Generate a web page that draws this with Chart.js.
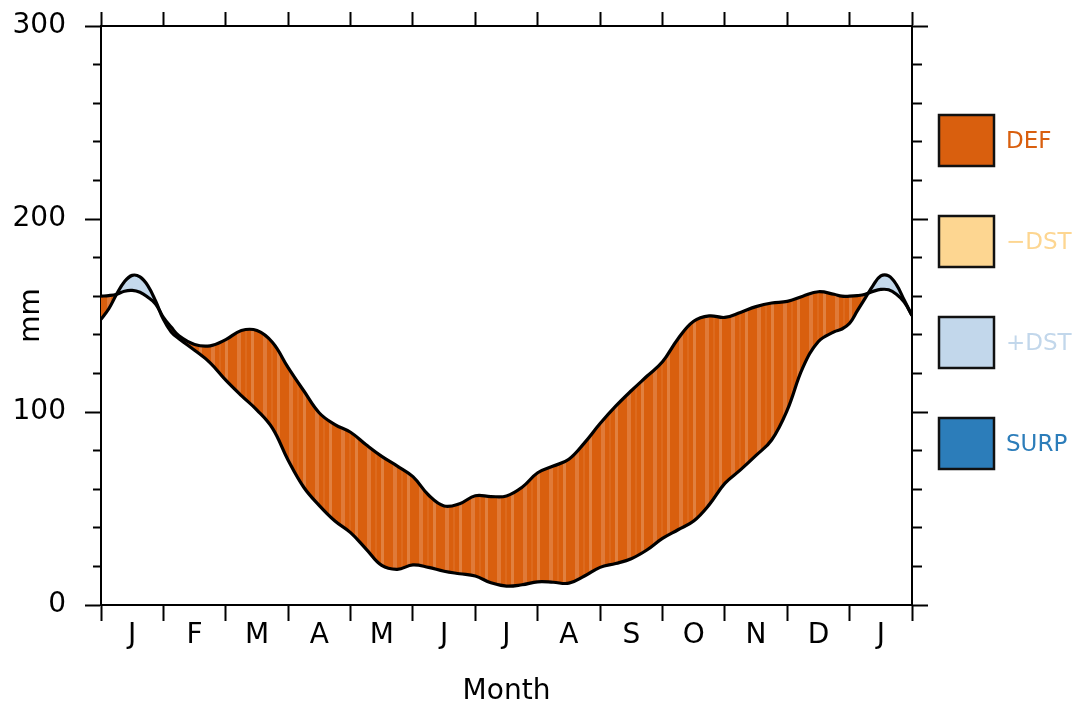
<!DOCTYPE html>
<html>
<head>
<meta charset="utf-8">
<title>Water balance</title>
<script src="https://cdn.jsdelivr.net/npm/chart.js@4.4.1/dist/chart.umd.min.js"></script>
<style>
  html, body { margin: 0; padding: 0; background: #fff; }
  #wrap { width: 1078px; height: 709px; }
</style>
</head>
<body>
<div id="wrap"><canvas id="waterChart" width="1078" height="709"></canvas></div>
<script>
// Month labels (one per month, J..J) - labels sit in the middle of each month
const monthLabels = ["J", "F", "M", "A", "M", "J", "J", "A", "S", "O", "N", "D", "J"];

// Sample positions, in months from the start of January
const monthPos = [0, 0.125, 0.25, 0.375, 0.5, 0.625, 0.75, 0.875, 1, 1.125, 1.25,
  1.5, 1.75, 2, 2.25, 2.5, 2.75, 3, 3.25, 3.5, 3.75, 4, 4.25, 4.5, 4.75, 5,
  5.25, 5.5, 5.75, 6, 6.25, 6.5, 6.75, 7, 7.25, 7.5, 7.75, 8, 8.25, 8.5, 8.75,
  9, 9.25, 9.5, 9.75, 10, 10.25, 10.5, 10.75, 11, 11.25, 11.5, 11.75,
  11.875, 12, 12.125, 12.25, 12.375, 12.5, 12.625, 12.75, 12.875, 13];

// Potential evapotranspiration (mm)
const pet = [160, 160.3, 161, 162.6, 163, 162, 159.5, 156, 149, 144, 139.5,
  135, 134.3, 137.5, 142.2, 142.2, 136, 123, 111, 99.5, 93.5, 89.5, 83, 77, 72, 66.5,
  57, 51.3, 52.5, 56.6, 56.2, 56.5, 61, 68.5, 72, 75.5, 84, 94, 103, 111, 118.5,
  126, 138, 147, 149.8, 149, 151.6, 154.6, 156.5, 157.3, 160, 162.3, 161,
  160, 160, 160.3, 161, 162.5, 163.5, 163.3, 161, 157, 150];

// Precipitation (mm)
const precip = [148, 153.5, 161, 167.5, 170.8, 170, 165.5, 157.5, 148, 141.5, 138,
  132, 125.5, 116.5, 108.5, 101, 91.5, 75, 61, 51.5, 43.5, 37.5, 29, 20.5, 18.5, 20.8,
  19.5, 17.5, 16.2, 15, 11.5, 9.8, 10.5, 12, 11.8, 11.3, 15, 19.5, 21.5, 24, 28.5,
  34.5, 39, 43.5, 52, 63, 70, 77.5, 85.5, 101, 123, 136.5, 141.5,
  143, 146, 152.5, 159, 165.5, 170.5, 170.5, 166, 158, 150];

// y ticks: minor every 20, labelled every 100
const yTicks = [0, 20, 40, 60, 80, 100, 120, 140, 160, 180, 200, 220, 240, 260, 280, 300];
const yLabelled = [0, 100, 200, 300];

// Legend entries
const legendNames = ["DEF", "\u2212DST", "+DST", "SURP"];
const legendColors = ["#D95F0E", "#FDD691", "#C2D7EB", "#2C7DBA"];

const RECHARGE_COLOR = "#C4D9EC";

Chart.defaults.font.family = "'DejaVu Sans', sans-serif";
Chart.defaults.font.size = 28;
Chart.defaults.color = "#000";

// orange deficit fill with faint lighter vertical bands (as in the original rendering)
function deficitPattern() {
  const c = document.createElement("canvas");
  c.width = 26; c.height = 8;
  const g = c.getContext("2d");
  g.fillStyle = "#D95F0E";
  g.fillRect(0, 0, 26, 8);
  g.fillStyle = "#E07A38";
  g.fillRect(3, 0, 4, 8);
  g.fillStyle = "#DC6A1E";
  g.fillRect(11, 0, 2, 8);
  g.fillStyle = "#E1803F";
  g.fillRect(17, 0, 3, 8);
  return g.createPattern(c, "repeat");
}

// tick positions along x: month edges plus month centres
const xTicks = monthLabels.flatMap((m, i) => [i, i + 0.5]).concat(monthLabels.length);
const isEdge = v => Math.abs(v - Math.round(v)) < 1e-6;

const monthTickColor = c => (c.tick && isEdge(c.tick.value) ? "#000" : "rgba(0,0,0,0)");
const isMajorY = c => c.tick && yLabelled.includes(c.tick.value);

// Boxes + coloured names at the right of the plot
const boxLegend = {
  id: "boxLegend",
  afterDraw(chart) {
    const ctx = chart.ctx;
    const x0 = chart.chartArea.right + 27;
    ctx.save();
    ctx.font = "23px 'DejaVu Sans'";
    ctx.textBaseline = "middle";
    legendNames.forEach((name, i) => {
      const top = 115 + i * 101;
      ctx.fillStyle = legendColors[i];
      ctx.fillRect(x0, top, 55, 51);
      ctx.lineWidth = 2.5;
      ctx.strokeStyle = "#111";
      ctx.strokeRect(x0, top, 55, 51);
      ctx.fillStyle = legendColors[i];
      ctx.fillText(name, x0 + 67, top + 27);
    });
    ctx.restore();
  }
};

const ctx = document.getElementById("waterChart");

new Chart(ctx, {
  type: "line",
  data: {
    datasets: [
      {
        label: "PET",
        data: monthPos.map((m, i) => ({ x: m, y: pet[i] })),
        borderColor: "#000",
        borderWidth: 3.2,
        pointRadius: 0,
        tension: 0.4,
        fill: { target: 1, above: deficitPattern(), below: RECHARGE_COLOR }
      },
      {
        label: "P",
        data: monthPos.map((m, i) => ({ x: m, y: precip[i] })),
        borderColor: "#000",
        borderWidth: 3.2,
        pointRadius: 0,
        tension: 0.4,
        fill: false
      }
    ]
  },
  options: {
    responsive: false,
    animation: false,
    layout: { padding: { left: 0, right: 150, top: 0, bottom: 0 } },
    plugins: {
      legend: { display: false },
      tooltip: { enabled: false },
      // paint the fills before any line so both outlines stay on top
      filler: { drawTime: "beforeDatasetsDraw" }
    },
    scales: {
      x: {
        type: "linear",
        position: "bottom",
        min: 0,
        max: 13,
        afterBuildTicks: s => { s.ticks = xTicks.map(v => ({ value: v })); },
        afterFit: s => { s.height = 104; },
        ticks: {
          autoSkip: false,
          maxRotation: 0,
          padding: 1,
          font: { size: 28, lineHeight: 1 },
          callback: v => (isEdge(v) ? "" : monthLabels[Math.floor(v)])
        },
        grid: {
          drawOnChartArea: false,
          tickLength: 16,
          tickWidth: 2,
          tickColor: monthTickColor
        },
        border: { color: "#000", width: 2 },
        title: { display: true, text: "Month", padding: { top: 0, bottom: 0 }, font: { size: 28, lineHeight: 1.2 } }
      },
      x2: {
        type: "linear",
        axis: "x",
        position: "top",
        min: 0,
        max: 13,
        afterBuildTicks: s => { s.ticks = xTicks.map(v => ({ value: v })); },
        afterFit: s => { s.height = 26; },
        ticks: { display: false },
        grid: {
          drawOnChartArea: false,
          tickLength: 14,
          tickWidth: 2,
          tickColor: monthTickColor
        },
        border: { color: "#000", width: 2 }
      },
      y: {
        type: "linear",
        position: "left",
        min: 0,
        max: 300,
        afterBuildTicks: s => { s.ticks = yTicks.map(v => ({ value: v })); },
        afterFit: s => { s.width = 101; },
        ticks: {
          padding: 19,
          // small line height keeps the top label from pushing the plot down
          font: { size: 28, lineHeight: 0.4 },
          callback: v => (yLabelled.includes(v) ? String(v) : "")
        },
        grid: {
          drawOnChartArea: false,
          tickLength: 16,
          tickWidth: 2,
          tickColor: "#000",
          // minor ticks: skip the outer 8px so only half a tick shows
          tickBorderDash: c => (isMajorY(c) ? [] : [8, 8]),
          tickBorderDashOffset: c => (isMajorY(c) ? 0 : 8)
        },
        border: { color: "#000", width: 2 },
        title: { display: true, text: "mm", padding: { top: 15, bottom: 0 }, font: { size: 28, lineHeight: 1.2 } }
      },
      y2: {
        type: "linear",
        axis: "y",
        position: "right",
        min: 0,
        max: 300,
        afterBuildTicks: s => { s.ticks = yTicks.map(v => ({ value: v })); },
        afterFit: s => { s.width = 16; },
        ticks: { display: false },
        grid: {
          drawOnChartArea: false,
          tickLength: 16,
          tickWidth: 2,
          tickColor: "#000",
          tickBorderDash: c => (isMajorY(c) ? [] : [9, 40])
        },
        border: { color: "#000", width: 2 }
      }
    }
  },
  plugins: [boxLegend]
});
</script>
</body>
</html>
